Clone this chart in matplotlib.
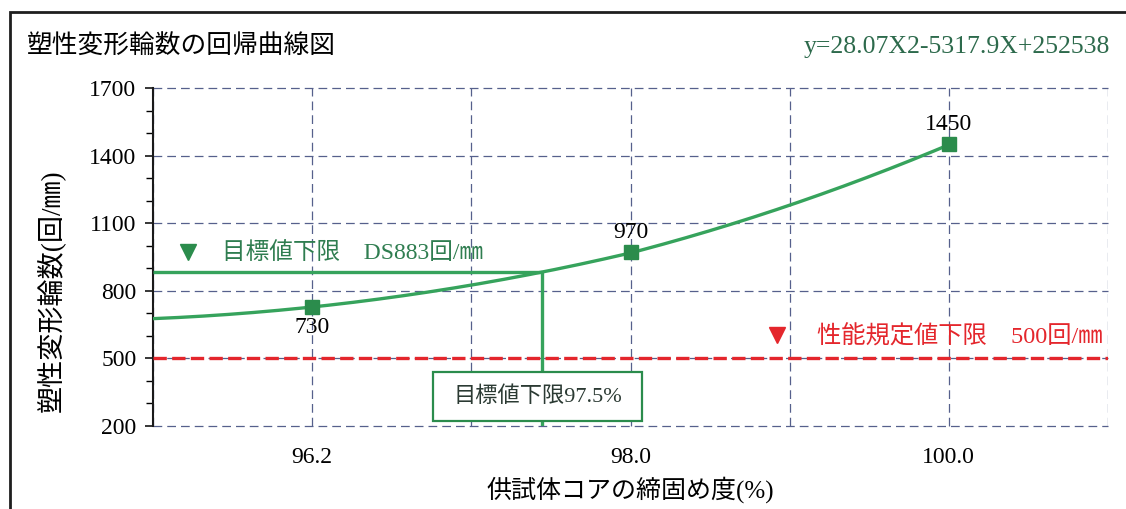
import numpy as np
import matplotlib
matplotlib.use("Agg")
import matplotlib.pyplot as plt
from matplotlib.patches import Rectangle
from matplotlib.ticker import FixedLocator, NullFormatter

plt.rcParams['font.family'] = ['Liberation Serif', 'Noto Sans CJK JP']

# compaction degree (%) and plastic deformation cycles (回/mm)
compaction = [96.2, 98.0, 100.0]
cycles = [730, 970, 1450]
tick_labels = ['96.2', '98.0', '100.0']
y_ticks = [200, 500, 800, 1100, 1400, 1700]

# regression curve y = a x^2 + b x + c
coef_a, coef_b, coef_c = 28.07, -5317.9, 252538
target_x = 97.5
target_y = 883
spec_y = 500

green_line = '#36a35c'
green_mark = '#2b8c4c'
green_text = '#2f7d50'
red = '#e4262c'
grid_col = '#56608c'


# the x axis is spaced like a category axis: equal steps between the labels
def fwd(x):
    x = np.asarray(x, dtype=float)
    return np.where(x < 98.0, 1 + (x - 96.2) / 0.9, 3 + (x - 98.0) / 1.0)


def inv(p):
    p = np.asarray(p, dtype=float)
    return np.where(p < 3, 96.2 + (p - 1) * 0.9, 98.0 + (p - 3) * 1.0)


fig = plt.figure(figsize=(11.26, 5.09), dpi=100)
ax = fig.add_axes([153 / 1126, 1 - 426 / 509, 955 / 1126, 338 / 509])
ax.set_xscale('function', functions=(fwd, inv))
xmin, xmax = float(inv(0)), float(inv(6))
ax.set_xlim(xmin, xmax)
ax.set_ylim(200, 1700)

ax.xaxis.set_major_locator(FixedLocator(compaction))
ax.set_xticklabels(tick_labels)
ax.xaxis.set_minor_locator(FixedLocator([float(inv(p)) for p in (0, 2, 4, 5.999)]))
ax.xaxis.set_minor_formatter(NullFormatter())
ax.yaxis.set_major_locator(FixedLocator(y_ticks))
ax.yaxis.set_minor_locator(FixedLocator(range(200, 1701, 100)))

ax.tick_params(axis='x', which='both', length=0, pad=15, labelsize=17)
ax.tick_params(axis='y', which='major', length=6, width=1.1, pad=6, labelsize=17, direction='out')
ax.tick_params(axis='y', which='minor', length=5, width=1.0, direction='out')

for s in ('top', 'right', 'bottom'):
    ax.spines[s].set_visible(False)
ax.spines['left'].set_linewidth(1.5)
ax.spines['left'].set_color('#1a1a1a')

ax.grid(True, axis='x', which='both', color=grid_col, lw=0.9, linestyle=(0, (7, 4)))
ax.grid(True, axis='y', which='major', color=grid_col, lw=0.9, linestyle=(0, (7, 4)))
ax.set_axisbelow(True)
for gl in ax.get_xgridlines() + ax.get_ygridlines():
    gl.set_clip_on(False)

# regression curve and measured points
xc = np.linspace(xmin, compaction[-1], 200)
yc = coef_a * xc ** 2 + coef_b * xc + coef_c
ax.plot(xc, yc, color=green_line, lw=2.4, zorder=3, solid_capstyle='butt')
ax.plot(compaction, cycles, 's', color=green_mark, ms=10, zorder=4)

ax.text(compaction[0], cycles[0] - 45, str(cycles[0]), ha='center', va='top', fontsize=17)
for x, y in zip(compaction[1:], cycles[1:]):
    ax.text(x, y + 40, str(y), ha='center', va='bottom', fontsize=17)

# target lower limit
ax.plot([xmin, target_x], [target_y, target_y], color=green_line, lw=2.4, zorder=3, solid_capstyle='butt')
ax.plot([target_x, target_x], [target_y, 200], color=green_line, lw=2.4, zorder=3, solid_capstyle='butt')
ax.plot([0.037], [0.515], 'v', color=green_mark, ms=11, transform=ax.transAxes, clip_on=False)
ax.text(0.072, 0.512, '目標値下限\u3000DS883回/㎜', transform=ax.transAxes, color=green_text,
        fontsize=17, va='center', ha='left')

box = Rectangle((0.2932, 0.0148), 0.2188, 0.145, transform=ax.transAxes,
                facecolor='white', edgecolor=green_mark, lw=1.6, zorder=5)
ax.add_patch(box)
ax.text(0.4026, 0.0873, '目標値下限97.5%', transform=ax.transAxes, ha='center', va='center',
        fontsize=16, color='#2b3a33', zorder=6)

# specification lower limit
ax.axhline(spec_y, color=red, lw=2.4, linestyle=(0, (4, 1.6)), zorder=3)
ax.plot([0.653], [0.268], 'v', color=red, ms=11, transform=ax.transAxes, clip_on=False)
ax.text(0.695, 0.265, '性能規定値下限\u3000500回/㎜', transform=ax.transAxes, color=red,
        fontsize=17.5, va='center', ha='left')

ax.set_xlabel('供試体コアの締固め度(%)', fontsize=18, labelpad=6)
ax.set_ylabel('塑性変形輪数(回/㎜)', fontsize=19.5)
ax.yaxis.set_label_coords(-0.092, 0.40)

fig.text(27 / 1126, 1 - 47 / 509, '塑性変形輪数の回帰曲線図', fontsize=18.5, va='center', ha='left')
fig.text(1110 / 1126, 1 - 47 / 509, 'y=28.07X2-5317.9X+252538', fontsize=18.5, va='center',
         ha='right', color='#2d6a4c')

frame = Rectangle((10 / 1126, -0.1), 1.2, 1.1 - 12 / 509, transform=fig.transFigure,
                  fill=False, edgecolor='#1e1e1e', lw=2, clip_on=False)
fig.add_artist(frame)

fig.savefig('out.png', dpi=100)
